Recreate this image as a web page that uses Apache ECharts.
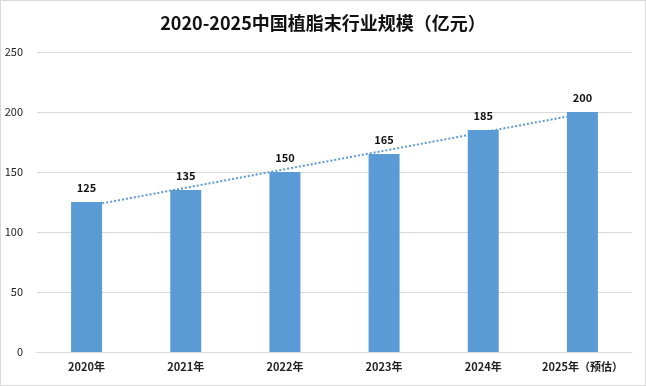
<!DOCTYPE html>
<html><head><meta charset="utf-8">
<script src="https://cdn.jsdelivr.net/npm/echarts@6/dist/echarts.min.js"></script>
<style>html,body{margin:0;padding:0;background:#fff}#c{width:646px;height:386px;box-sizing:border-box;border:1px solid #d9d9d9;}</style>
</head><body><div id="c"></div>
<script>
const categories = ['2020年','2021年','2022年','2023年','2024年','2025年（预估）'];
const values = [125,135,150,165,185,200];
const yTicks = {min:0,max:250,interval:50};

// linear trendline (least squares, as in the source's trendline)
const n = values.length;
const xs = values.map((v,i)=>i+1);
const mx = xs.reduce((a,b)=>a+b,0)/n, my = values.reduce((a,b)=>a+b,0)/n;
let sxy=0,sxx=0; xs.forEach((x,i)=>{sxy+=(x-mx)*(values[i]-my);sxx+=(x-mx)*(x-mx);});
const slope=sxy/sxx, icpt=my-slope*mx;
const trend = xs.map(x=>+(icpt+slope*x).toFixed(2));

const font = '"Noto Sans CJK SC", sans-serif';
const chart = echarts.init(document.getElementById('c'));
chart.setOption({
  animation:false,
  title:{text:'2020-2025中国植脂末行业规模（亿元）',left:'center',top:8,
    textStyle:{fontFamily:font,fontSize:18,fontWeight:'bold',color:'#111'}},
  grid:{left:36,right:13,top:51,bottom:33},
  xAxis:{type:'category',data:categories,
    axisLine:{lineStyle:{color:'#d9d9d9'}},axisTick:{show:false},
    axisLabel:{interval:0,fontFamily:font,fontSize:11,fontWeight:'bold',color:'#222',margin:9}},
  yAxis:{type:'value',min:yTicks.min,max:yTicks.max,interval:yTicks.interval,
    axisLine:{show:false},axisTick:{show:false},
    splitLine:{lineStyle:{color:'#d9d9d9'}},
    axisLabel:{fontFamily:font,fontSize:11,color:'#222',margin:14}},
  series:[
    {type:'bar',data:values,barWidth:31,itemStyle:{color:'#5b9bd5'},
      label:{show:true,position:'top',distance:9,fontFamily:font,fontSize:11,fontWeight:'bold',color:'#111'}},
    {type:'line',data:trend,symbol:'none',silent:true,
      lineStyle:{color:'#5b9bd5',width:2,type:[2,2]}}
  ]
});
</script></body></html>
